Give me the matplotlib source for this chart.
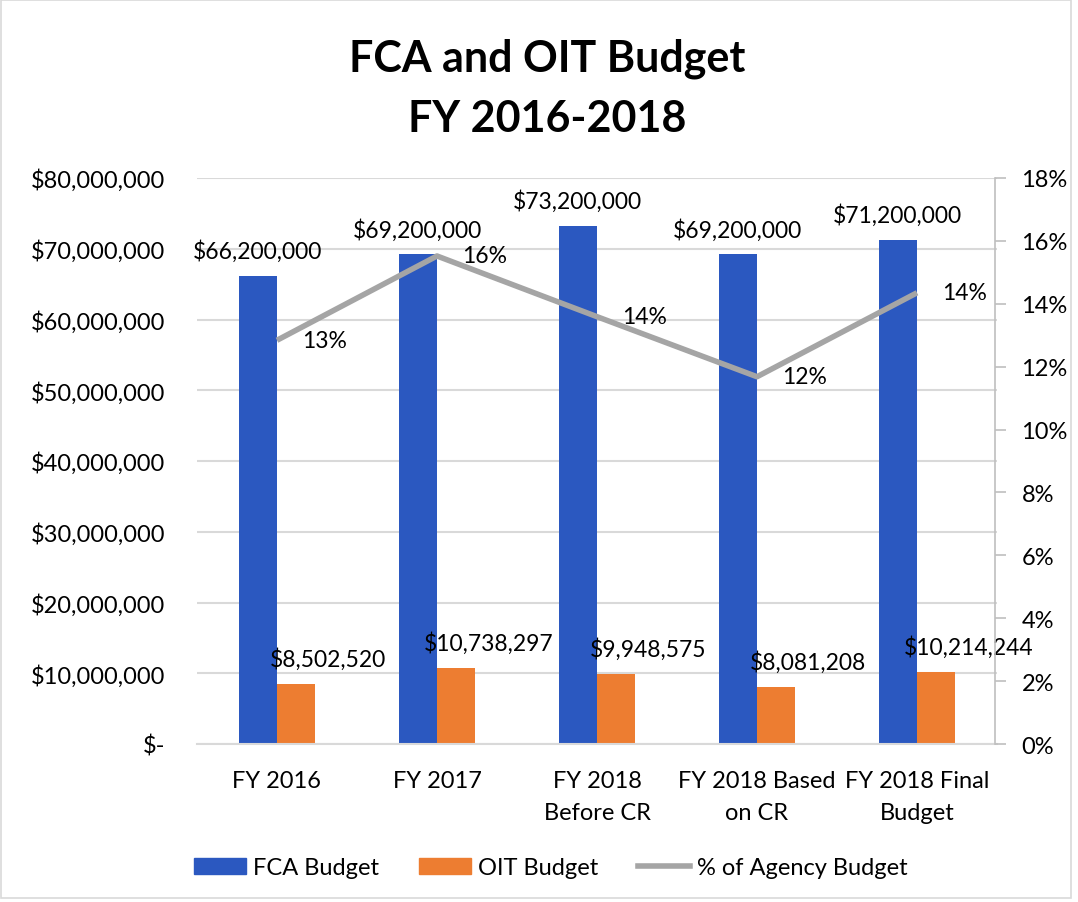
import matplotlib
matplotlib.use("Agg")
import matplotlib.pyplot as plt
from matplotlib.patches import Patch, Rectangle
from matplotlib.lines import Line2D
from matplotlib.ticker import FuncFormatter, MultipleLocator
import numpy as np

plt.rcParams['font.family'] = ['Lato', 'DejaVu Sans']

categories = ["FY 2016", "FY 2017", "FY 2018\nBefore CR", "FY 2018 Based\non CR", "FY 2018 Final\nBudget"]
fca_budget = [66200000, 69200000, 73200000, 69200000, 71200000]
oit_budget = [8502520, 10738297, 9948575, 8081208, 10214244]
pct_agency = [12.84, 15.52, 13.59, 11.68, 14.35]
pct_labels = ["13%", "16%", "14%", "12%", "14%"]

BLUE = "#2B58C0"
ORANGE = "#ED7D31"
GRAY = "#A5A5A5"
GRID = "#D9D9D9"
FS = 17
FS_LBL = 16.5

W, H = 1078, 903
fig = plt.figure(figsize=(W / 100, H / 100), dpi=100)
ax = fig.add_axes([197 / W, 1 - 745 / H, (997 - 197) / W, (745 - 179) / H])

x = np.arange(len(categories))
bw = 0.24
ax.bar(x - bw / 2, fca_budget, width=bw, color=BLUE, zorder=2)
ax.bar(x + bw / 2, oit_budget, width=bw, color=ORANGE, zorder=2)
ax.set_xlim(-0.5, len(categories) - 0.5)
ax.set_ylim(0, 80000000)
ax.yaxis.set_major_locator(MultipleLocator(10000000))
ax.yaxis.set_major_formatter(FuncFormatter(lambda v, p: "$-" if v == 0 else f"${v:,.0f}"))
ax.grid(axis='y', color=GRID, linewidth=1.5, zorder=0)
ax.set_axisbelow(True)
for s in ['top', 'right', 'left']:
    ax.spines[s].set_visible(False)
ax.spines['bottom'].set_color(GRID)
ax.spines['bottom'].set_linewidth(1.5)
ax.tick_params(axis='y', length=0, pad=23, labelsize=FS, labelcolor='black')
ax.tick_params(axis='x', length=0, pad=19, labelsize=FS)
ax.set_xticks(x)
ax.set_xticklabels(categories, linespacing=1.6)

for xi, v in zip(x, fca_budget):
    ax.annotate(f"${v:,.0f}", (xi - bw / 2, v), xytext=(0, 14), textcoords='offset pixels',
                ha='center', va='bottom', fontsize=FS_LBL)
for xi, v in zip(x, oit_budget):
    ax.annotate(f"${v:,.0f}", (xi + bw / 2, v), xytext=(32, 14), textcoords='offset pixels',
                ha='center', va='bottom', fontsize=FS_LBL)

ax2 = ax.twinx()
ax2.plot(x, pct_agency, color=GRAY, linewidth=4, solid_capstyle='butt', zorder=3)
ax2.set_ylim(0, 18)
ax2.yaxis.set_major_locator(MultipleLocator(2))
ax2.yaxis.set_major_formatter(FuncFormatter(lambda v, p: f"{v:.0f}%"))
for s in ['top', 'left', 'bottom']:
    ax2.spines[s].set_visible(False)
ax2.spines['right'].set_color("#BFBFBF")
ax2.spines['right'].set_linewidth(1.2)
ax2.spines['right'].set_position(('data', len(categories) - 0.5 - 2 / 160))
ax2.tick_params(axis='y', length=8, width=1.2, color="#BFBFBF", pad=11, labelsize=FS)
for xi, v, lab in zip(x, pct_agency, pct_labels):
    ax2.annotate(lab, (xi, v), xytext=(25, 0), textcoords='offset pixels',
                 ha='left', va='center', fontsize=FS_LBL)

fig.text(547 / W, 1 - 89 / H, "FCA and OIT Budget\nFY 2016-2018", ha='center', va='center',
         fontsize=31, fontweight='bold', linespacing=1.6)

handles = [Patch(color=BLUE, label="FCA Budget"), Patch(color=ORANGE, label="OIT Budget"),
           Line2D([0], [0], color=GRAY, linewidth=4, label="% of Agency Budget")]
fig.legend(handles=handles, loc='center', bbox_to_anchor=(551 / W, 1 - 869 / H), ncol=3,
           frameon=False, fontsize=FS, handlelength=2.2, handleheight=0.65,
           handletextpad=0.3, columnspacing=1.7)

fig.add_artist(Rectangle((0.5 / W, 4 / H), (W - 8) / W, (H - 5) / H, transform=fig.transFigure,
                         fill=False, edgecolor="#D9D9D9", linewidth=1.2))

fig.savefig("out.png", dpi=100, facecolor='white')
